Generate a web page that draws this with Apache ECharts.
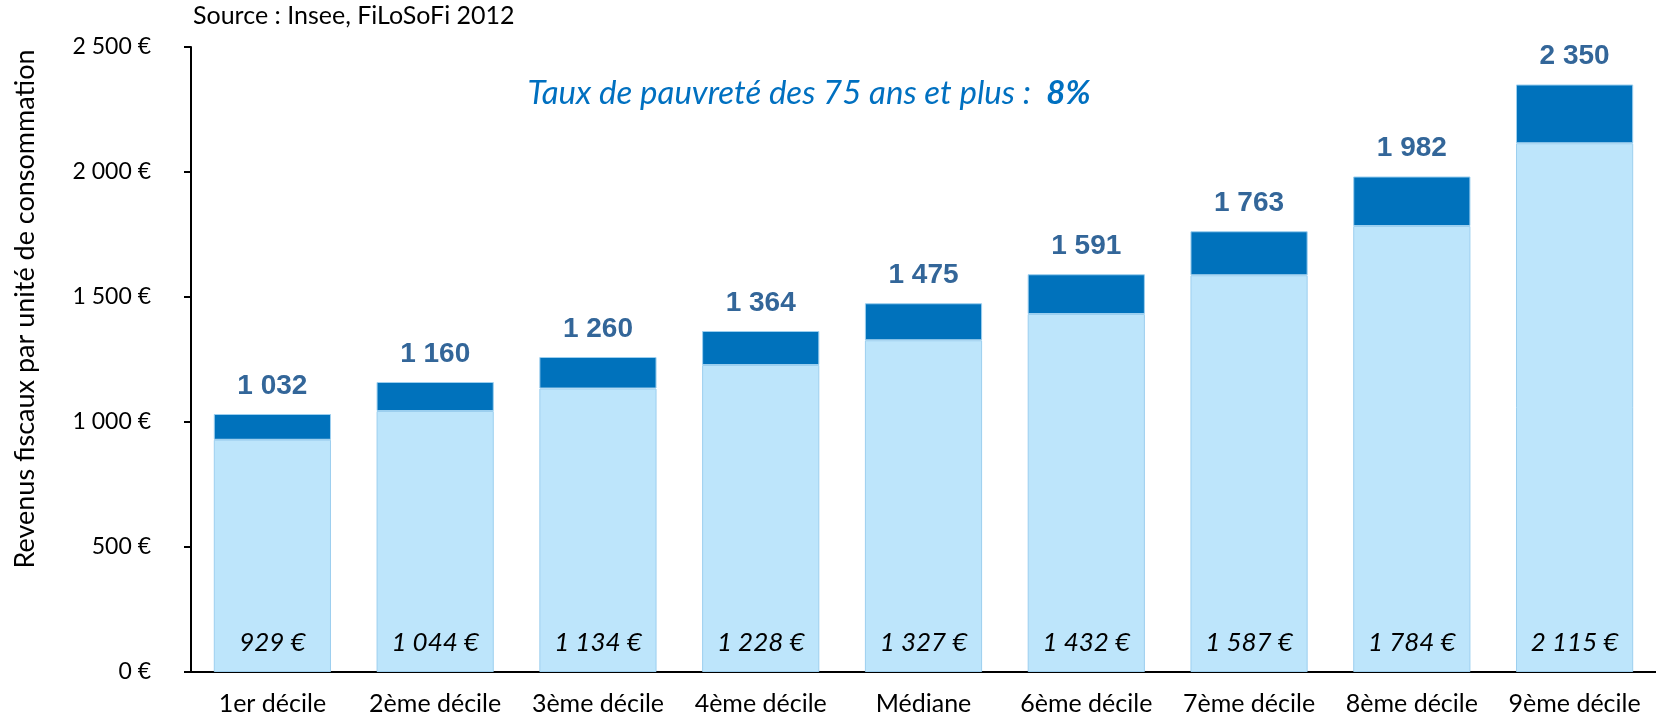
<!doctype html>
<html>
<head>
<meta charset="UTF-8">
<title>Revenus fiscaux par décile</title>
<script src="https://cdn.jsdelivr.net/npm/echarts@6/dist/echarts.min.js"></script>
<style>
  html, body { margin: 0; padding: 0; background: #fff; }
  #main { width: 1656px; height: 725px; }
</style>
</head>
<body>
<div id="main"></div>
<script>
var categories = ['1er décile', '2ème décile', '3ème décile', '4ème décile', 'Médiane',
                  '6ème décile', '7ème décile', '8ème décile', '9ème décile'];
// partie basse (valeur affichée en bas de la barre)
var lowerValues = [929, 1044, 1134, 1228, 1327, 1432, 1587, 1784, 2115];
// total (valeur affichée au-dessus)
var totalValues = [1032, 1160, 1260, 1364, 1475, 1591, 1763, 1982, 2350];
var yTicks = [0, 500, 1000, 1500, 2000, 2500];

var FONT = 'Lato';

function fmt(v) {
    return String(v).replace(/\B(?=(\d{3})+(?!\d))/g, ' ');
}

var topPart = totalValues.map(function (t, i) { return t - lowerValues[i]; });

var chart = echarts.init(document.getElementById('main'));
chart.setOption({
    animation: false,
    textStyle: { fontFamily: FONT },
    // le graphique d'origine est coupé à droite
    grid: { left: 191, right: -5, top: 47, bottom: 53 },
    xAxis: {
        type: 'category',
        data: categories,
        axisLine: { lineStyle: { color: '#000', width: 2 } },
        axisTick: { inside: true, length: 7, lineStyle: { color: '#000', width: 2 } },
        axisLabel: { color: '#000', fontSize: 25, fontFamily: FONT, margin: 19, interval: 0, hideOverlap: false }
    },
    yAxis: {
        type: 'value',
        min: yTicks[0],
        max: yTicks[yTicks.length - 1],
        interval: 500,
        splitLine: { show: false },
        axisLine: { show: true, lineStyle: { color: '#000', width: 2 } },
        axisTick: { show: true, length: 7, lineStyle: { color: '#000', width: 2 } },
        axisLabel: {
            color: '#000', fontSize: 23, fontFamily: FONT, margin: 40,
            formatter: function (v) { return fmt(v) + ' €'; }
        }
    },
    graphic: [
        {
            type: 'text', left: 193, top: 3,
            style: { text: 'Source : Insee, FiLoSoFi 2012', font: '25px ' + FONT, fill: '#000' }
        },
        {
            type: 'text', x: 25, y: 309, rotation: Math.PI / 2,
            style: {
                text: 'Revenus fiscaux par unité de consommation',
                font: '27px ' + FONT, fill: '#000', align: 'center', verticalAlign: 'middle'
            }
        },
        {
            type: 'text', x: 809, y: 93,
            style: {
                rich: {
                    a: { font: 'italic 33px ' + FONT, fill: '#0070C0' },
                    b: { font: 'italic bold 33px ' + FONT, fill: '#0070C0' }
                },
                text: '{a|Taux de pauvreté des 75 ans et plus :  }{b|8%}',
                align: 'center', verticalAlign: 'middle'
            }
        }
    ],
    series: [
        {
            type: 'bar',
            stack: 'rev',
            data: lowerValues,
            barWidth: '72%',
            itemStyle: { color: '#BDE5FB', borderColor: '#9CCFEF', borderWidth: 1 },
            label: {
                show: true, position: 'insideBottom', distance: 16,
                fontSize: 26, fontStyle: 'italic', fontFamily: FONT, color: '#000',
                formatter: function (p) { return fmt(p.value) + ' €'; }
            }
        },
        {
            type: 'bar',
            stack: 'rev',
            data: topPart,
            itemStyle: { color: '#0072BC', borderColor: '#9CCFEF', borderWidth: 1 },
            label: {
                show: true, position: 'top', distance: 14,
                fontSize: 28, fontWeight: 'bold', fontFamily: 'Liberation Sans', color: '#336699',
                formatter: function (p) { return fmt(totalValues[p.dataIndex]); }
            }
        }
    ]
});
</script>
</body>
</html>
